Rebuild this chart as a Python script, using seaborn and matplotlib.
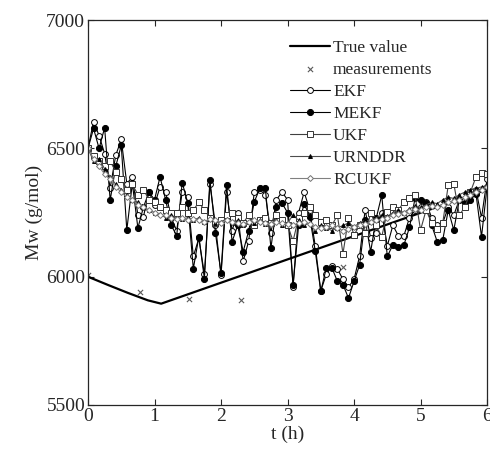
import numpy as np
import pandas as pd
import matplotlib
matplotlib.use("Agg")
import matplotlib.pyplot as plt
import seaborn as sns

# sample times of the filters (every 5 min over 6 h)
t = np.linspace(0, 6, 73)

true_t = [0, 0.3, 0.6, 0.9, 1.1, 6.0]
true_val = [6000, 5968, 5937, 5908, 5895, 6340]

meas_t = [0.0, 0.78, 1.52, 2.3, 3.83]
meas_val = [6005, 5942, 5912, 5908, 6038]

ekf = [6500, 6605, 6550, 6480, 6345, 6473, 6535, 6363, 6389, 6240,
       6234, 6331, 6280, 6350, 6331, 6230, 6180, 6330, 6311, 6079,
       6150, 6010, 6360, 6200, 6005, 6330, 6180, 6250, 6060, 6140,
       6330, 6340, 6320, 6170, 6300, 6330, 6300, 5960, 6250, 6330,
       6260, 6120, 5945, 6010, 6040, 6030, 5990, 5960, 5990, 6080,
       6260, 6150, 6170, 6250, 6120, 6200, 6160, 6160, 6230, 6260,
       6270, 6290, 6230, 6200, 6210, 6270, 6240, 6300, 6300, 6320,
       6340, 6230, 6380]
mekf = [6500, 6578, 6500, 6581, 6298, 6430, 6512, 6182, 6364, 6190,
        6271, 6330, 6300, 6389, 6300, 6201, 6160, 6367, 6287, 6031,
        6156, 5992, 6379, 6169, 6015, 6357, 6137, 6200, 6098, 6180,
        6292, 6344, 6344, 6112, 6272, 6287, 6250, 5969, 6200, 6285,
        6234, 6100, 5943, 6035, 6035, 5982, 5969, 5917, 5982, 6046,
        6221, 6098, 6228, 6318, 6079, 6124, 6117, 6124, 6192, 6305,
        6300, 6286, 6201, 6137, 6143, 6260, 6182, 6300, 6286, 6300,
        6324, 6156, 6350]
ukf = [6500, 6470, 6450, 6430, 6450, 6410, 6380, 6340, 6360, 6320,
       6340, 6300, 6290, 6270, 6260, 6250, 6250, 6270, 6250, 6260,
       6290, 6260, 6230, 6210, 6220, 6240, 6250, 6230, 6210, 6240,
       6200, 6220, 6230, 6210, 6240, 6220, 6200, 6140, 6230, 6250,
       6270, 6240, 6214, 6220, 6200, 6240, 6090, 6228, 6163, 6200,
       6169, 6247, 6200, 6156, 6253, 6272, 6260, 6292, 6305, 6318,
       6182, 6260, 6210, 6186, 6209, 6357, 6363, 6240, 6272, 6330,
       6389, 6403, 6400]
urnddr = [6500, 6450, 6460, 6420, 6390, 6360, 6340, 6320, 6300, 6290,
          6270, 6260, 6250, 6245, 6230, 6240, 6230, 6225, 6230, 6220,
          6230, 6215, 6225, 6210, 6215, 6225, 6210, 6220, 6200, 6215,
          6210, 6220, 6205, 6210, 6220, 6200, 6210, 6240, 6220, 6200,
          6210, 6180, 6200, 6190, 6180, 6190, 6200, 6210, 6195, 6210,
          6220, 6215, 6230, 6240, 6235, 6250, 6260, 6250, 6265, 6275,
          6270, 6280, 6290, 6285, 6300, 6310, 6305, 6320, 6330, 6340,
          6345, 6350, 6355]
rcukf = [6500, 6460, 6430, 6400, 6380, 6350, 6330, 6310, 6300, 6280,
         6270, 6260, 6250, 6240, 6240, 6230, 6225, 6230, 6220, 6225,
         6220, 6215, 6225, 6220, 6210, 6220, 6215, 6210, 6205, 6215,
         6220, 6215, 6210, 6205, 6215, 6210, 6205, 6200, 6210, 6215,
         6205, 6195, 6190, 6195, 6200, 6190, 6180, 6185, 6195, 6200,
         6205, 6215, 6220, 6225, 6230, 6240, 6245, 6250, 6255, 6265,
         6260, 6270, 6275, 6270, 6280, 6290, 6295, 6300, 6310, 6320,
         6330, 6340, 6350]

sns.set_style("ticks")
plt.rcParams['font.family'] = ['Liberation Serif', 'DejaVu Serif']

fig = plt.figure(figsize=(4.9, 4.49), dpi=100)
ax = fig.add_axes([0.1796, 0.098, 0.8144, 0.857])

sns.lineplot(x=true_t, y=true_val, ax=ax, color='k', lw=1.6, label='True value')
sns.scatterplot(x=meas_t, y=meas_val, ax=ax, marker='x', color='0.35', s=14,
                linewidth=0.8, label='measurements')

styles = [
    ('EKF', ekf, dict(color='k', marker='o', mfc='white', mec='k', ms=4.2)),
    ('MEKF', mekf, dict(color='k', marker='o', mfc='k', mec='k', ms=4.4)),
    ('UKF', ukf, dict(color='0.25', marker='s', mfc='white', mec='0.2', ms=4.2)),
    ('URNDDR', urnddr, dict(color='0.3', marker='^', mfc='k', mec='k', ms=2.8)),
    ('RCUKF', rcukf, dict(color='0.5', marker='D', mfc='white', mec='0.45', ms=3.0)),
]
for name, vals, kw in styles:
    df = pd.DataFrame({'t': t, 'Mw': vals})
    sns.lineplot(data=df, x='t', y='Mw', ax=ax, lw=0.8, label=name,
                 markeredgewidth=0.7, **kw)

ax.set_xlim(0, 6)
ax.set_ylim(5500, 7000)
ax.set_xticks([0, 1, 2, 3, 4, 5, 6])
ax.set_yticks([5500, 6000, 6500, 7000])
ax.tick_params(direction='in', top=True, right=True, labelsize=14, length=4,
               width=0.8, pad=2)
for s in ax.spines.values():
    s.set_visible(True)
    s.set_linewidth(0.9)
ax.set_xlabel('t (h)', fontsize=14, labelpad=1)
ax.set_ylabel('Mw (g/mol)', fontsize=14, labelpad=2)

leg = ax.legend(loc='upper left', bbox_to_anchor=(0.49, 0.968), frameon=False,
                fontsize=12.5, handlelength=2.3, handletextpad=0.15,
                labelspacing=0.34, borderaxespad=0)

fig.savefig('out.png', dpi=100)
